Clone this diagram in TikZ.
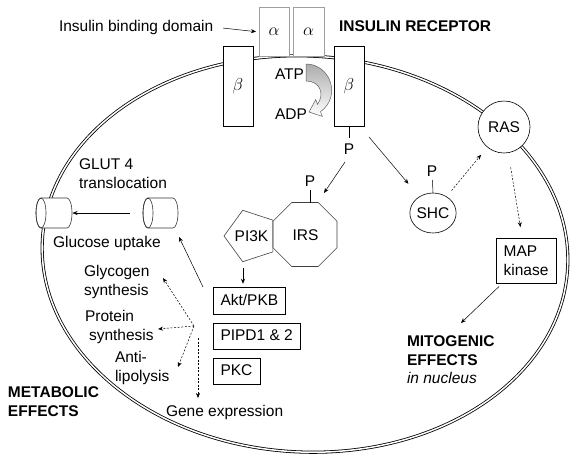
\documentclass[tikz,border=0pt]{standalone}
\usepackage{fontspec}
\setmainfont{Liberation Sans}
\usetikzlibrary{arrows.meta,shapes.geometric}
\newcommand{\myfs}{\fontsize{15.5}{18.7}\selectfont}
\newcommand{\grk}{\fontsize{18}{20}\selectfont}
\begin{document}
\begin{tikzpicture}[x=1pt,y=-1pt,
  every node/.style={inner sep=0pt, outer sep=0pt, font=\myfs},
  lbl/.style={anchor=base west},
  mlbl/.style={anchor=north west, align=left},
  plbl/.style={anchor=base},
  box/.style={draw, fill=white, line width=0.6pt},
  abox/.style={draw=gray!75, fill=white, line width=0.7pt},
  tbox/.style={box, anchor=west, minimum height=26.5pt, inner xsep=7.5pt, text height=11pt, text depth=3pt},
  ln/.style={line width=0.5pt},
  poly/.style={draw=black!75, line width=0.6pt},
  arr/.style={line width=0.5pt, -{Stealth[length=5pt,width=4pt]}},
  darr/.style={arr, dash pattern=on 2pt off 1.6pt},
  membrane/.style={line width=0.8pt, double=white, double distance=1.5pt},
  cyl/.style={draw=black!80, fill=white, line width=0.6pt}
  ]
\fill[white] (0,0) rectangle (578,459);
\useasboundingbox (0,0) rectangle (578,459);

% cell membrane
\draw[membrane, rotate around={-3:(305,254)}] (305,254) ellipse [x radius=263, y radius=198];

% receptor
\node[abox, minimum width=30pt, minimum height=49pt, font=\grk] (a1) at (274,32) {$\alpha$};
\node[abox, minimum width=31pt, minimum height=49pt, font=\grk] (a2) at (308.5,32) {$\alpha$};
\node[box, minimum width=30pt, minimum height=80pt, font=\grk] (b1) at (238,86) {$\beta$};
\node[box, minimum width=30pt, minimum height=80pt, font=\grk] (b2) at (349,86) {$\beta$};

\node[lbl] (ibd) at (59,31) {Insulin binding domain};
\node[lbl, font=\myfs\bfseries] (ir) at (339,31) {INSULIN RECEPTOR};
\draw[arr, shorten <=10pt, shorten >=3pt] (ibd.east) -- (a1.west);

% ATP -> ADP
\node[lbl] (atp) at (275,79) {ATP};
\node[lbl] (adp) at (275,119) {ADP};
\shadedraw[top color=gray!65, bottom color=white, draw=gray!75!black, line width=0.5pt]
  (306,64) .. controls (330,64) and (342,96) .. (320.5,111.7) -- (322.3,116.4) -- (309,112)
  -- (315.7,99.6) -- (317.5,104.3) .. controls (325,94) and (320,81) .. (306,81) -- cycle;

\node[plbl] (pb) at (349,154) {P};
\draw[ln, shorten >=5pt] (b2.south) -- (pb);

% RAS / SHC / MAP kinase
\node[draw, fill=white, circle, minimum size=52pt, line width=0.6pt] (ras) at (504,127) {RAS};
\node[draw, fill=white, ellipse, minimum width=46pt, minimum height=40pt, line width=0.6pt] (shc) at (433,213) {SHC};
\node[plbl] (pshc) at (432,176) {P};
\draw[ln, shorten >=4pt] (shc.north) -- (pshc);
\node[box, minimum width=60pt, minimum height=45pt, align=left] (map) at (526,260.5) {MAP\\kinase};

\coordinate (s1) at (369,137);
\draw[arr, shorten >=17pt] (s1) -- (shc);
\draw[darr, shorten <=8pt, shorten >=10pt] (shc) -- (ras);
\draw[darr, shorten <=15pt, shorten >=11pt] (ras) -- (map);
\coordinate (mitoEnd) at (461,323);
\draw[arr, shorten <=5pt] (map) -- (mitoEnd);
\node[mlbl, font=\myfs\bfseries] (mito) at (407,335.7) {MITOGENIC\\EFFECTS\\{\normalfont\itshape in nucleus}};

% IRS / PI3K
\draw[poly] (224,236) -- (242.7,210.3) -- (272.8,220.1) -- (272.8,251.9) -- (242.7,261.7) -- cycle;
\draw[poly] (291.75,202.5) -- (318.25,202.5) -- (337,221.25) -- (337,247.75) -- (318.25,266.5)
  -- (291.75,266.5) -- (273,247.75) -- (273,221.25) -- cycle;
\node (pi3k) at (251.5,236) {PI3K};
\node (irs) at (305.5,235) {IRS};
\coordinate (irstop) at (310,202.5);
\node[plbl] (pirs) at (310,186) {P};
\draw[ln, shorten >=4pt] (irstop) -- (pirs);
\coordinate (s2) at (345,162);
\coordinate (e2) at (324,193);
\draw[arr] (s2) -- (e2);

% kinases
\node[tbox] (akt) at (213,301) {Akt/PKB};
\node[tbox] (pipd) at (213,336.5) {PIPD1 \& 2};
\node[tbox] (pkc) at (213,371.5) {PKC};
\coordinate (pk) at (243,262);
\draw[arr, shorten <=6pt, shorten >=4pt] (pk) -- (pk |- akt.north);

% GLUT4
\filldraw[cyl] (41,198) -- (67,198) arc[start angle=-90, end angle=90, x radius=5, y radius=15]
  -- (41,228) arc[start angle=90, end angle=270, x radius=5, y radius=15] -- cycle;
\draw[cyl, fill=none] (41,213) ellipse [x radius=5, y radius=15];
\filldraw[cyl] (148,198) -- (173,198) arc[start angle=-90, end angle=90, x radius=5, y radius=15]
  -- (148,228) arc[start angle=90, end angle=270, x radius=5, y radius=15] -- cycle;
\draw[cyl, fill=none] (148,213) ellipse [x radius=5, y radius=15];
\coordinate (glutR) at (130,213);
\coordinate (glutL) at (72.5,213);
\draw[arr] (glutR) -- (glutL);
\node[mlbl] (glut) at (79,158.7) {GLUT 4\\translocation};
\node[lbl] (gu) at (53,247) {Glucose uptake};
\coordinate (s3) at (203,287);
\coordinate (e3) at (179,237);
\draw[arr] (s3) -- (e3);

% metabolic effects
\node[mlbl] (glyc) at (84,265.7) {Glycogen\\synthesis};
\node[mlbl] (prot) at (85,310.7) {Protein\\\hspace*{4pt}synthesis};
\node[mlbl] (anti) at (115,351.7) {Anti-\\lipolysis};
\node[mlbl, font=\myfs\bfseries] (meta) at (8,386.7) {METABOLIC\\EFFECTS};
\node[lbl] (gene) at (166,416) {Gene expression};

\coordinate (hub) at (194,326);
\coordinate (eGly) at (163,278);
\coordinate (eProt) at (158,329);
\coordinate (eAnti) at (178,367);
\coordinate (gs) at (198,338);
\coordinate (eGene) at (198,398);
\draw[darr] (hub) -- (eGly);
\draw[darr] (hub) -- (eProt);
\draw[darr] (hub) -- (eAnti);
\draw[darr] (gs) -- (eGene);
\end{tikzpicture}
\end{document}
